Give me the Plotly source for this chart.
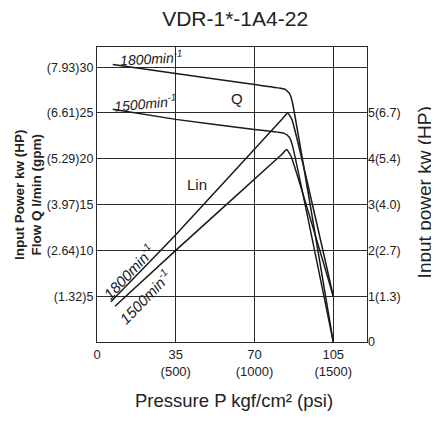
import plotly.graph_objects as go

# ---- data (pressure kgf/cm2, flow l/min) ----
q1800_x = [7, 35, 70, 83.5, 85.6, 86.8, 105]
q1800_y = [30.3, 29.3, 28.1, 27.6, 27.1, 26.2, 0]
q1500_x = [7, 35, 70, 83, 85.3, 86.7, 105]
q1500_y = [25.4, 24.3, 23.2, 22.8, 22.4, 21.6, 0]
lin1800_x = [6.2, 35, 82.5, 84.7, 86.6, 105]
lin1800_y = [4.4, 11.7, 24.4, 25.0, 24.3, 5]
lin1500_x = [8, 35, 82.2, 84.3, 86.2, 105]
lin1500_y = [3.9, 10.0, 20.5, 21.0, 20.3, 5]

x_ticks = [0, 35, 70, 105]
x_ticktext = ["0", "35<br>(500)", "70<br>(1000)", "105<br>(1500)"]
y_ticks = [5, 10, 15, 20, 25, 30]
y_ticktext = ["(1.32)5", "(2.64)10", "(3.97)15", "(5.29)20", "(6.61)25", "(7.93)30"]
p_ticks = [0, 1, 2, 3, 4, 5]
p_ticktext = ["0", "1(1.3)", "2(2.7)", "3(4.0)", "4(5.4)", "5(6.7)"]

X_MAX = 120
Y_MAX = 32.2

fig = go.Figure()
line = dict(color="#1a1a1a", width=1.5, shape="spline", smoothing=0.4)
for xs, ys in [(q1800_x, q1800_y), (q1500_x, q1500_y), (lin1800_x, lin1800_y), (lin1500_x, lin1500_y)]:
    fig.add_trace(go.Scatter(x=xs, y=ys, mode="lines", line=line, showlegend=False, hoverinfo="skip"))
fig.add_trace(go.Scatter(x=[0], y=[0], yaxis="y2", mode="markers", marker=dict(opacity=0),
                         showlegend=False, hoverinfo="skip"))

sans = "Liberation Sans, Arial"
grid = "#2a2a2a"
tcol = "#222"
fig.update_layout(
    width=431, height=413,
    margin=dict(l=89, r=72, t=39, b=79, autoexpand=False),
    paper_bgcolor="white", plot_bgcolor="white",
    title=dict(text="VDR-1*-1A4-22", x=0.527, xanchor="center", y=0.9746, yanchor="middle",
               font=dict(family=sans, size=21, color=tcol), automargin=False),
    xaxis=dict(range=[0, X_MAX], tickvals=x_ticks, ticktext=x_ticktext, showgrid=True,
               gridcolor=grid, gridwidth=1, zeroline=False, showline=True, linecolor=grid,
               mirror=True, linewidth=1.2, ticks="", automargin=False,
               tickfont=dict(family=sans, size=13, color=tcol)),
    yaxis=dict(range=[0, Y_MAX], tickvals=y_ticks, ticktext=y_ticktext, showgrid=True,
               gridcolor=grid, gridwidth=1, zeroline=False, showline=True, linecolor=grid,
               mirror=True, linewidth=1.2, ticks="", automargin=False,
               tickfont=dict(family=sans, size=12.5, color=tcol)),
    yaxis2=dict(range=[0, Y_MAX / 5], tickvals=p_ticks, ticktext=p_ticktext, overlaying="y",
                side="right", showgrid=False, zeroline=False, showline=False, ticks="",
                automargin=False, tickfont=dict(family=sans, size=12.5, color=tcol)),
)

ann_font = dict(family=sans, size=14, color="#1a1a1a")
rot_font = dict(family=sans, size=15, color="#1a1a1a")
fig.add_annotation(x=24, y=31.0, text="<i>1800min<sup>-1</sup></i>", showarrow=False, font=ann_font, textangle=-3)
fig.add_annotation(x=21.4, y=26.1, text="<i>1500min<sup>-1</sup></i>", showarrow=False, font=ann_font, textangle=-5)
fig.add_annotation(x=62.2, y=26.55, text="Q", showarrow=False, font=dict(family=sans, size=15, color="#1a1a1a"))
fig.add_annotation(x=44.6, y=17.2, text="Lin", showarrow=False, font=dict(family=sans, size=15, color="#1a1a1a"))
fig.add_annotation(x=13.9, y=7.7, text="<i>1800min<sup>-1</sup></i>", showarrow=False, font=rot_font, textangle=-47)
fig.add_annotation(x=21.1, y=5.0, text="<i>1500min<sup>-1</sup></i>", showarrow=False, font=rot_font, textangle=-46)
# axis titles
fig.add_annotation(xref="paper", yref="paper", x=-0.254, y=0.5, xanchor="center", yanchor="middle",
                   text="<b>Input Power kw (HP)<br>Flow Q l/min (gpm)</b>", showarrow=False, textangle=-90,
                   font=dict(family=sans, size=13.5, color=tcol))
fig.add_annotation(xref="paper", yref="paper", x=0.507, y=-0.197, xanchor="center", yanchor="middle",
                   text="Pressure P kgf/cm² (psi)", showarrow=False,
                   font=dict(family=sans, size=18.5, color=tcol))
fig.add_annotation(xref="paper", yref="paper", x=1.212, y=0.508, xanchor="center", yanchor="middle",
                   text="Input power kw (HP)", showarrow=False, textangle=-90,
                   font=dict(family=sans, size=19, color=tcol))

fig.write_html("out.html")
